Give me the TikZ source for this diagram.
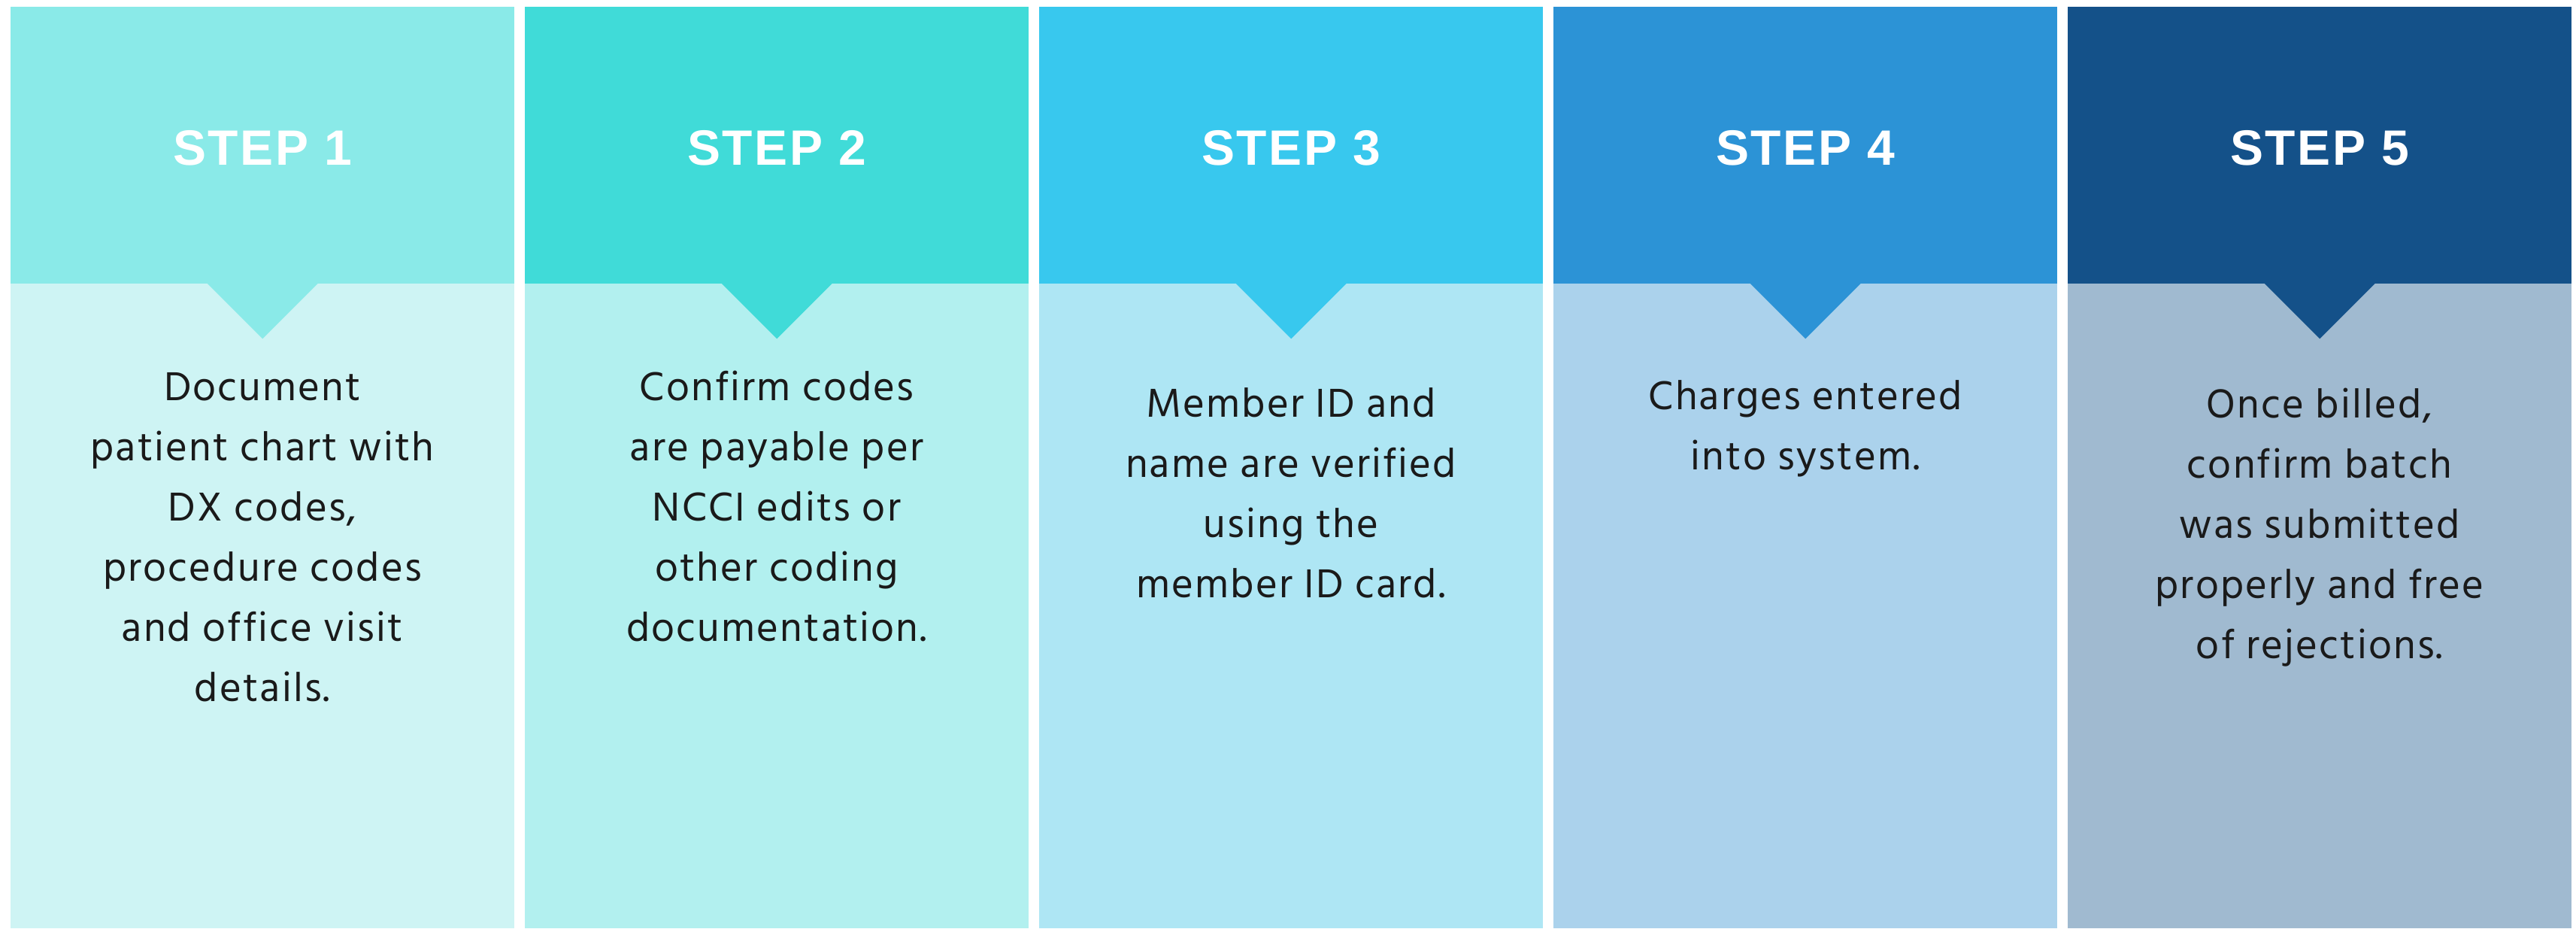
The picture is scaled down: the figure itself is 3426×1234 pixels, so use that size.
\documentclass[tikz,border=0pt]{standalone}
\usepackage{fontspec}
\usetikzlibrary{calc}
\newfontfamily\bodyfont{Hind Madurai}[LetterSpace=4]
\newfontfamily\headfont{Liberation Sans}[LetterSpace=4]
\definecolor{h1}{HTML}{8AEAE8}\definecolor{b1}{HTML}{CEF4F4}
\definecolor{h2}{HTML}{40DBD8}\definecolor{b2}{HTML}{B2F0EF}
\definecolor{h3}{HTML}{38C8EE}\definecolor{b3}{HTML}{AEE6F4}
\definecolor{h4}{HTML}{2C93D6}\definecolor{b4}{HTML}{ABD2EC}
\definecolor{h5}{HTML}{145189}\definecolor{b5}{HTML}{A0BAD0}
\definecolor{ink}{HTML}{1A1A1A}
\tikzset{
  headbox/.style={rectangle, draw=none, inner sep=0, minimum width=670, minimum height=368, anchor=north west},
  bodybox/.style={rectangle, draw=none, inner sep=0, minimum width=670, minimum height=857, anchor=north west},
  headtext/.style={anchor=base, inner sep=0, text=white, font=\headfont\bfseries\fontsize{66}{70}\selectfont},
  bodytext/.style={anchor=base, inner sep=0, text=ink, align=center, font=\bodyfont\fontsize{55}{80}\selectfont},
}
\begin{document}
\begin{tikzpicture}[x=1pt,y=-1pt]
\useasboundingbox (0,0) rectangle (3426,1234);
\fill[white] (0,0) rectangle (3426,1234);
\foreach \i/\n/\yb/\txt in {
  0/1/932/{Document\\patient chart with\\DX codes,\\procedure codes\\and office visit\\details.},
  1/2/852/{Confirm codes\\are payable per\\NCCI edits or\\other coding\\documentation.},
  2/3/794/{Member ID and\\name are verified\\using the\\member ID card.},
  3/4/624/{Charges entered\\into system.},
  4/5/875/{Once billed,\\confirm batch\\was submitted\\properly and free\\of rejections.}}
{
  \node[bodybox, fill=b\n] (body\n) at ({14+684*\i},377) {};
  \node[headbox, fill=h\n] (head\n) at ({14+684*\i},9) {};
  \fill[h\n] ($(head\n.south)+(-74,-1)$) -- ($(head\n.south)+(74,-1)$) -- ($(head\n.south)+(0,73)$) -- cycle;
  \node[headtext] (title\n) at ({14+684*\i+335},219) {STEP \n};
  \node[bodytext] (text\n) at ({14+684*\i+335},\yb) {\txt};
}
\end{tikzpicture}
\end{document}
